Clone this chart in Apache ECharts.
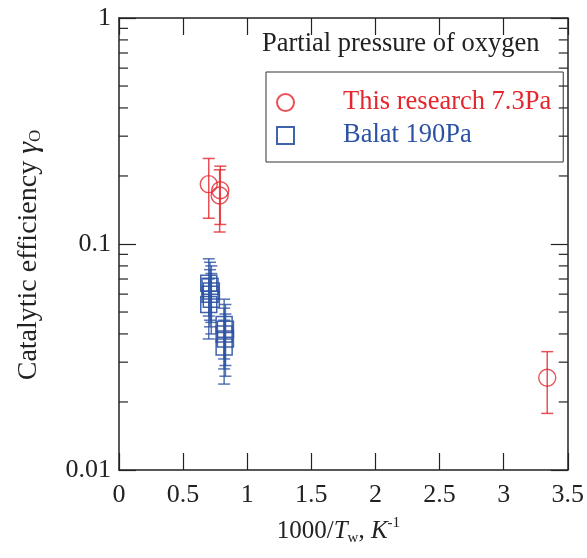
<!DOCTYPE html>
<html>
<head>
<meta charset="utf-8">
<script src="https://cdn.jsdelivr.net/npm/echarts@6/dist/echarts.min.js"></script>
<style>
  html, body { margin: 0; padding: 0; background: #fff; }
  #chart { width: 587px; height: 558px; }
</style>
</head>
<body>
<div id="chart"></div>
<script>
// this research (7.3 Pa)
const ownX = [0.70, 0.79, 0.785, 3.34]
const ownY = [0.184, 0.173, 0.164, 0.0256]
const ownLow = [0.130, 0.122, 0.113, 0.0178]
const ownHigh = [0.239, 0.221, 0.213, 0.0334]

// Balat (190 Pa)
const balatX = [0.70, 0.71, 0.72, 0.71, 0.72, 0.70, 0.82, 0.83, 0.82, 0.83, 0.82]
const balatY = [0.067, 0.065, 0.062, 0.060, 0.057, 0.054, 0.044, 0.042, 0.040, 0.038, 0.035]
const balatLow = [0.048, 0.046, 0.045, 0.043, 0.040, 0.038, 0.031, 0.029, 0.028, 0.026, 0.024]
const balatHigh = [0.086, 0.083, 0.080, 0.077, 0.074, 0.070, 0.057, 0.054, 0.052, 0.049, 0.046]

const minorTicks = [0.02, 0.03, 0.04, 0.05, 0.06, 0.07, 0.08, 0.09, 0.2, 0.3, 0.4, 0.5, 0.6, 0.7, 0.8, 0.9]

const RED = '#e5262d'
const BLUE = '#2c52a3'
const FONT = 'Liberation Serif'

const points = (xs, ys) => xs.map((x, i) => [x, ys[i]])
const bars = (xs, lo, hi) => xs.map((x, i) => [x, lo[i], hi[i]])

function errorBar (color) {
  return function (params, api) {
    const top = api.coord([api.value(0), api.value(2)])
    const bot = api.coord([api.value(0), api.value(1)])
    const w = 6
    const style = { stroke: color, lineWidth: 1.5, opacity: 0.8 }
    return {
      type: 'group',
      children: [
        { type: 'line', shape: { x1: top[0], y1: top[1], x2: bot[0], y2: bot[1] }, style },
        { type: 'line', shape: { x1: top[0] - w, y1: top[1], x2: top[0] + w, y2: top[1] }, style },
        { type: 'line', shape: { x1: bot[0] - w, y1: bot[1], x2: bot[0] + w, y2: bot[1] }, style }
      ]
    }
  }
}

// minor log ticks on both y sides
function minorTick (params, api) {
  const l = api.coord([0, api.value(0)])
  const r = api.coord([3.5, api.value(0)])
  const style = { stroke: '#222', lineWidth: 1.2 }
  return {
    type: 'group',
    children: [
      { type: 'line', shape: { x1: l[0], y1: l[1], x2: l[0] + 9, y2: l[1] }, style },
      { type: 'line', shape: { x1: r[0] - 9, y1: r[1], x2: r[0], y2: r[1] }, style }
    ]
  }
}

const axisLine = { show: true, onZero: false, lineStyle: { color: '#222', width: 1.5 } }
const axisTick = { show: true, inside: true, length: 17, lineStyle: { color: '#222', width: 1.2 } }

const chart = echarts.init(document.getElementById('chart'))
chart.setOption({
  animation: false,
  textStyle: { fontFamily: FONT },
  grid: { left: 119, right: 16, top: 18, bottom: 88 },
  title: {
    text: 'Partial pressure of oxygen',
    left: 262,
    top: 31,
    padding: 0,
    textStyle: { fontFamily: FONT, fontSize: 26.5, fontWeight: 'normal', color: '#222' }
  },
  legend: {
    left: 266,
    top: 72,
    orient: 'vertical',
    padding: [17, 12, 13, 10],
    itemGap: 6,
    itemWidth: 17,
    itemHeight: 17,
    borderColor: '#333',
    borderWidth: 1,
    selectedMode: false,
    textStyle: { fontFamily: FONT, fontSize: 26.5, lineHeight: 26, padding: [0, 0, 0, 44] },
    data: [
      { name: 'This research 7.3Pa', textStyle: { color: RED } },
      { name: 'Balat 190Pa', textStyle: { color: BLUE } }
    ]
  },
  xAxis: [{
    type: 'value',
    position: 'bottom',
    min: 0,
    max: 3.5,
    interval: 0.5,
    axisLine,
    axisTick,
    splitLine: { show: false },
    axisLabel: { fontFamily: FONT, fontSize: 26, color: '#222', margin: 12 },
    name: '{a|1000/}{i|T}{s|w}{a|, }{i|K}{p|-1}',
    nameLocation: 'middle',
    nameGap: 46,
    nameTextStyle: {
      padding: [0, 10, 0, 0],
      rich: {
        a: { fontFamily: FONT, fontSize: 25, color: '#222', lineHeight: 30 },
        i: { fontFamily: FONT, fontSize: 25, fontStyle: 'italic', color: '#222', lineHeight: 30 },
        s: { fontFamily: FONT, fontSize: 15, color: '#222', lineHeight: 15, verticalAlign: 'bottom' },
        p: { fontFamily: FONT, fontSize: 15, color: '#222', lineHeight: 15, verticalAlign: 'top' }
      }
    }
  }, {
    type: 'value',
    position: 'top',
    min: 0,
    max: 3.5,
    interval: 0.5,
    axisLine,
    axisTick,
    splitLine: { show: false },
    axisLabel: { show: false }
  }],
  yAxis: [{
    type: 'log',
    logBase: 10,
    position: 'left',
    min: 0.01,
    max: 1,
    axisLine,
    axisTick,
    splitLine: { show: false },
    axisLabel: { fontFamily: FONT, fontSize: 26, color: '#222', margin: 8 },
    name: '{a|Catalytic efficiency }{i|γ}{s|O}',
    nameLocation: 'middle',
    nameRotate: 90,
    nameGap: 75,
    nameTextStyle: {
      padding: [0, 22, 0, 0],
      rich: {
        a: { fontFamily: FONT, fontSize: 28, color: '#222', lineHeight: 30 },
        i: { fontFamily: FONT, fontSize: 30, fontStyle: 'italic', color: '#222', lineHeight: 30 },
        s: { fontFamily: FONT, fontSize: 17, color: '#222', lineHeight: 17, verticalAlign: 'bottom' }
      }
    }
  }, {
    type: 'log',
    logBase: 10,
    position: 'right',
    min: 0.01,
    max: 1,
    axisLine,
    axisTick,
    splitLine: { show: false },
    axisLabel: { show: false }
  }],
  series: [
    {
      name: 'ticks',
      type: 'custom',
      renderItem: minorTick,
      data: minorTicks.map(v => [v]),
      encode: { y: 0 },
      silent: true,
      clip: false
    },
    {
      name: 'own-err',
      type: 'custom',
      renderItem: errorBar(RED),
      data: bars(ownX, ownLow, ownHigh),
      encode: { x: 0, y: [1, 2] },
      silent: true
    },
    {
      name: 'balat-err',
      type: 'custom',
      renderItem: errorBar(BLUE),
      data: bars(balatX, balatLow, balatHigh),
      encode: { x: 0, y: [1, 2] },
      silent: true
    },
    {
      name: 'This research 7.3Pa',
      type: 'scatter',
      symbol: 'circle',
      symbolSize: 17,
      itemStyle: { color: 'rgba(0,0,0,0)', borderColor: RED, borderWidth: 1.4 },
      data: points(ownX, ownY)
    },
    {
      name: 'Balat 190Pa',
      type: 'scatter',
      symbol: 'rect',
      symbolSize: 16,
      itemStyle: { color: 'rgba(0,0,0,0)', borderColor: BLUE, borderWidth: 1.5, opacity: 0.9 },
      data: points(balatX, balatY)
    }
  ]
})
</script>
</body>
</html>
